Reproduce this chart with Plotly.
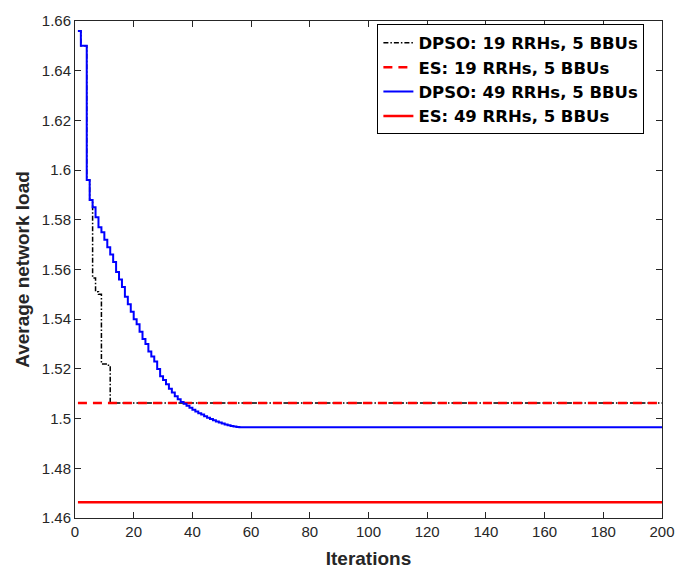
import plotly.graph_objects as go

iterations = list(range(1, 201))

# DPSO, 49 RRHs, 5 BBUs (iterations 1..55, then flat)
dpso49_head = [1.656, 1.650, 1.650, 1.596, 1.588, 1.585, 1.581, 1.577, 1.575, 1.572,
               1.569, 1.566, 1.563, 1.559, 1.556, 1.553, 1.549, 1.546, 1.543, 1.540,
               1.538, 1.535, 1.532, 1.530, 1.527, 1.525, 1.523, 1.520, 1.517, 1.5155,
               1.5138, 1.512, 1.5105, 1.509, 1.5078, 1.5067, 1.5060, 1.5052, 1.5044, 1.5036,
               1.5029, 1.5022, 1.5016, 1.5009, 1.5003, 1.4998, 1.4993, 1.4988, 1.4984, 1.4980,
               1.4976, 1.4973, 1.4970, 1.4968, 1.4966]
dpso49_final = 1.4965

# DPSO, 19 RRHs, 5 BBUs (iterations 1..11, then flat)
dpso19_head = [1.656, 1.650, 1.650, 1.596, 1.588, 1.5566, 1.551, 1.550, 1.522, 1.522,
               1.5215]
dpso19_final = 1.5063

es19 = 1.5063
es49 = 1.4663

dpso49 = dpso49_head + [dpso49_final] * (len(iterations) - len(dpso49_head))
dpso19 = dpso19_head + [dpso19_final] * (len(iterations) - len(dpso19_head))

x_ticks = list(range(0, 201, 20))
y_ticks = [1.46, 1.48, 1.50, 1.52, 1.54, 1.56, 1.58, 1.60, 1.62, 1.64, 1.66]
y_tick_text = ["1.46", "1.48", "1.5", "1.52", "1.54", "1.56", "1.58", "1.6", "1.62", "1.64", "1.66"]

FONT = "Liberation Sans, Arial, sans-serif"

fig = go.Figure()
fig.add_trace(go.Scatter(x=iterations, y=dpso19, mode="lines", line_shape="hv",
                         name="<b>DPSO: 19 RRHs, 5 BBUs</b>",
                         line=dict(color="black", width=1.5, dash="5px,2px,1.5px,2px")))
fig.add_trace(go.Scatter(x=iterations, y=[es19] * len(iterations), mode="lines",
                         name="<b>ES: 19 RRHs, 5 BBUs</b>",
                         line=dict(color="#ff0000", width=2.5, dash="9px,6px")))
fig.add_trace(go.Scatter(x=iterations, y=dpso49, mode="lines", line_shape="hv",
                         name="<b>DPSO: 49 RRHs, 5 BBUs</b>",
                         line=dict(color="#0000ff", width=2)))
fig.add_trace(go.Scatter(x=iterations, y=[es49] * len(iterations), mode="lines",
                         name="<b>ES: 49 RRHs, 5 BBUs</b>",
                         line=dict(color="#ff0000", width=2.5)))

axis_common = dict(showgrid=False, zeroline=False, showline=True, linecolor="#262626",
                   linewidth=1, mirror="allticks", ticks="inside", ticklen=6,
                   tickcolor="#262626",
                   tickfont=dict(family=FONT, size=15, color="#262626"))

fig.update_layout(
    width=687, height=577,
    margin=dict(l=75, r=24, t=13, b=54),
    paper_bgcolor="white", plot_bgcolor="white",
    showlegend=True,
    legend=dict(x=0.97, y=0.993, xanchor="right", yanchor="top",
                bgcolor="white", bordercolor="black", borderwidth=1,
                font=dict(family="DejaVu Sans, sans-serif", size=16.5, color="black"),
                tracegroupgap=0, itemwidth=30),
    xaxis=dict(range=[0, 200], tickvals=x_ticks,
               title=dict(text="<b>Iterations</b>", standoff=12,
                          font=dict(family=FONT, size=19, color="#262626")),
               **axis_common),
    yaxis=dict(range=[1.46, 1.66], tickvals=y_ticks, ticktext=y_tick_text,
               title=dict(text="<b>Average network load</b>", standoff=7,
                          font=dict(family=FONT, size=19, color="#262626")),
               **axis_common),
)

fig.write_html("out.html")
